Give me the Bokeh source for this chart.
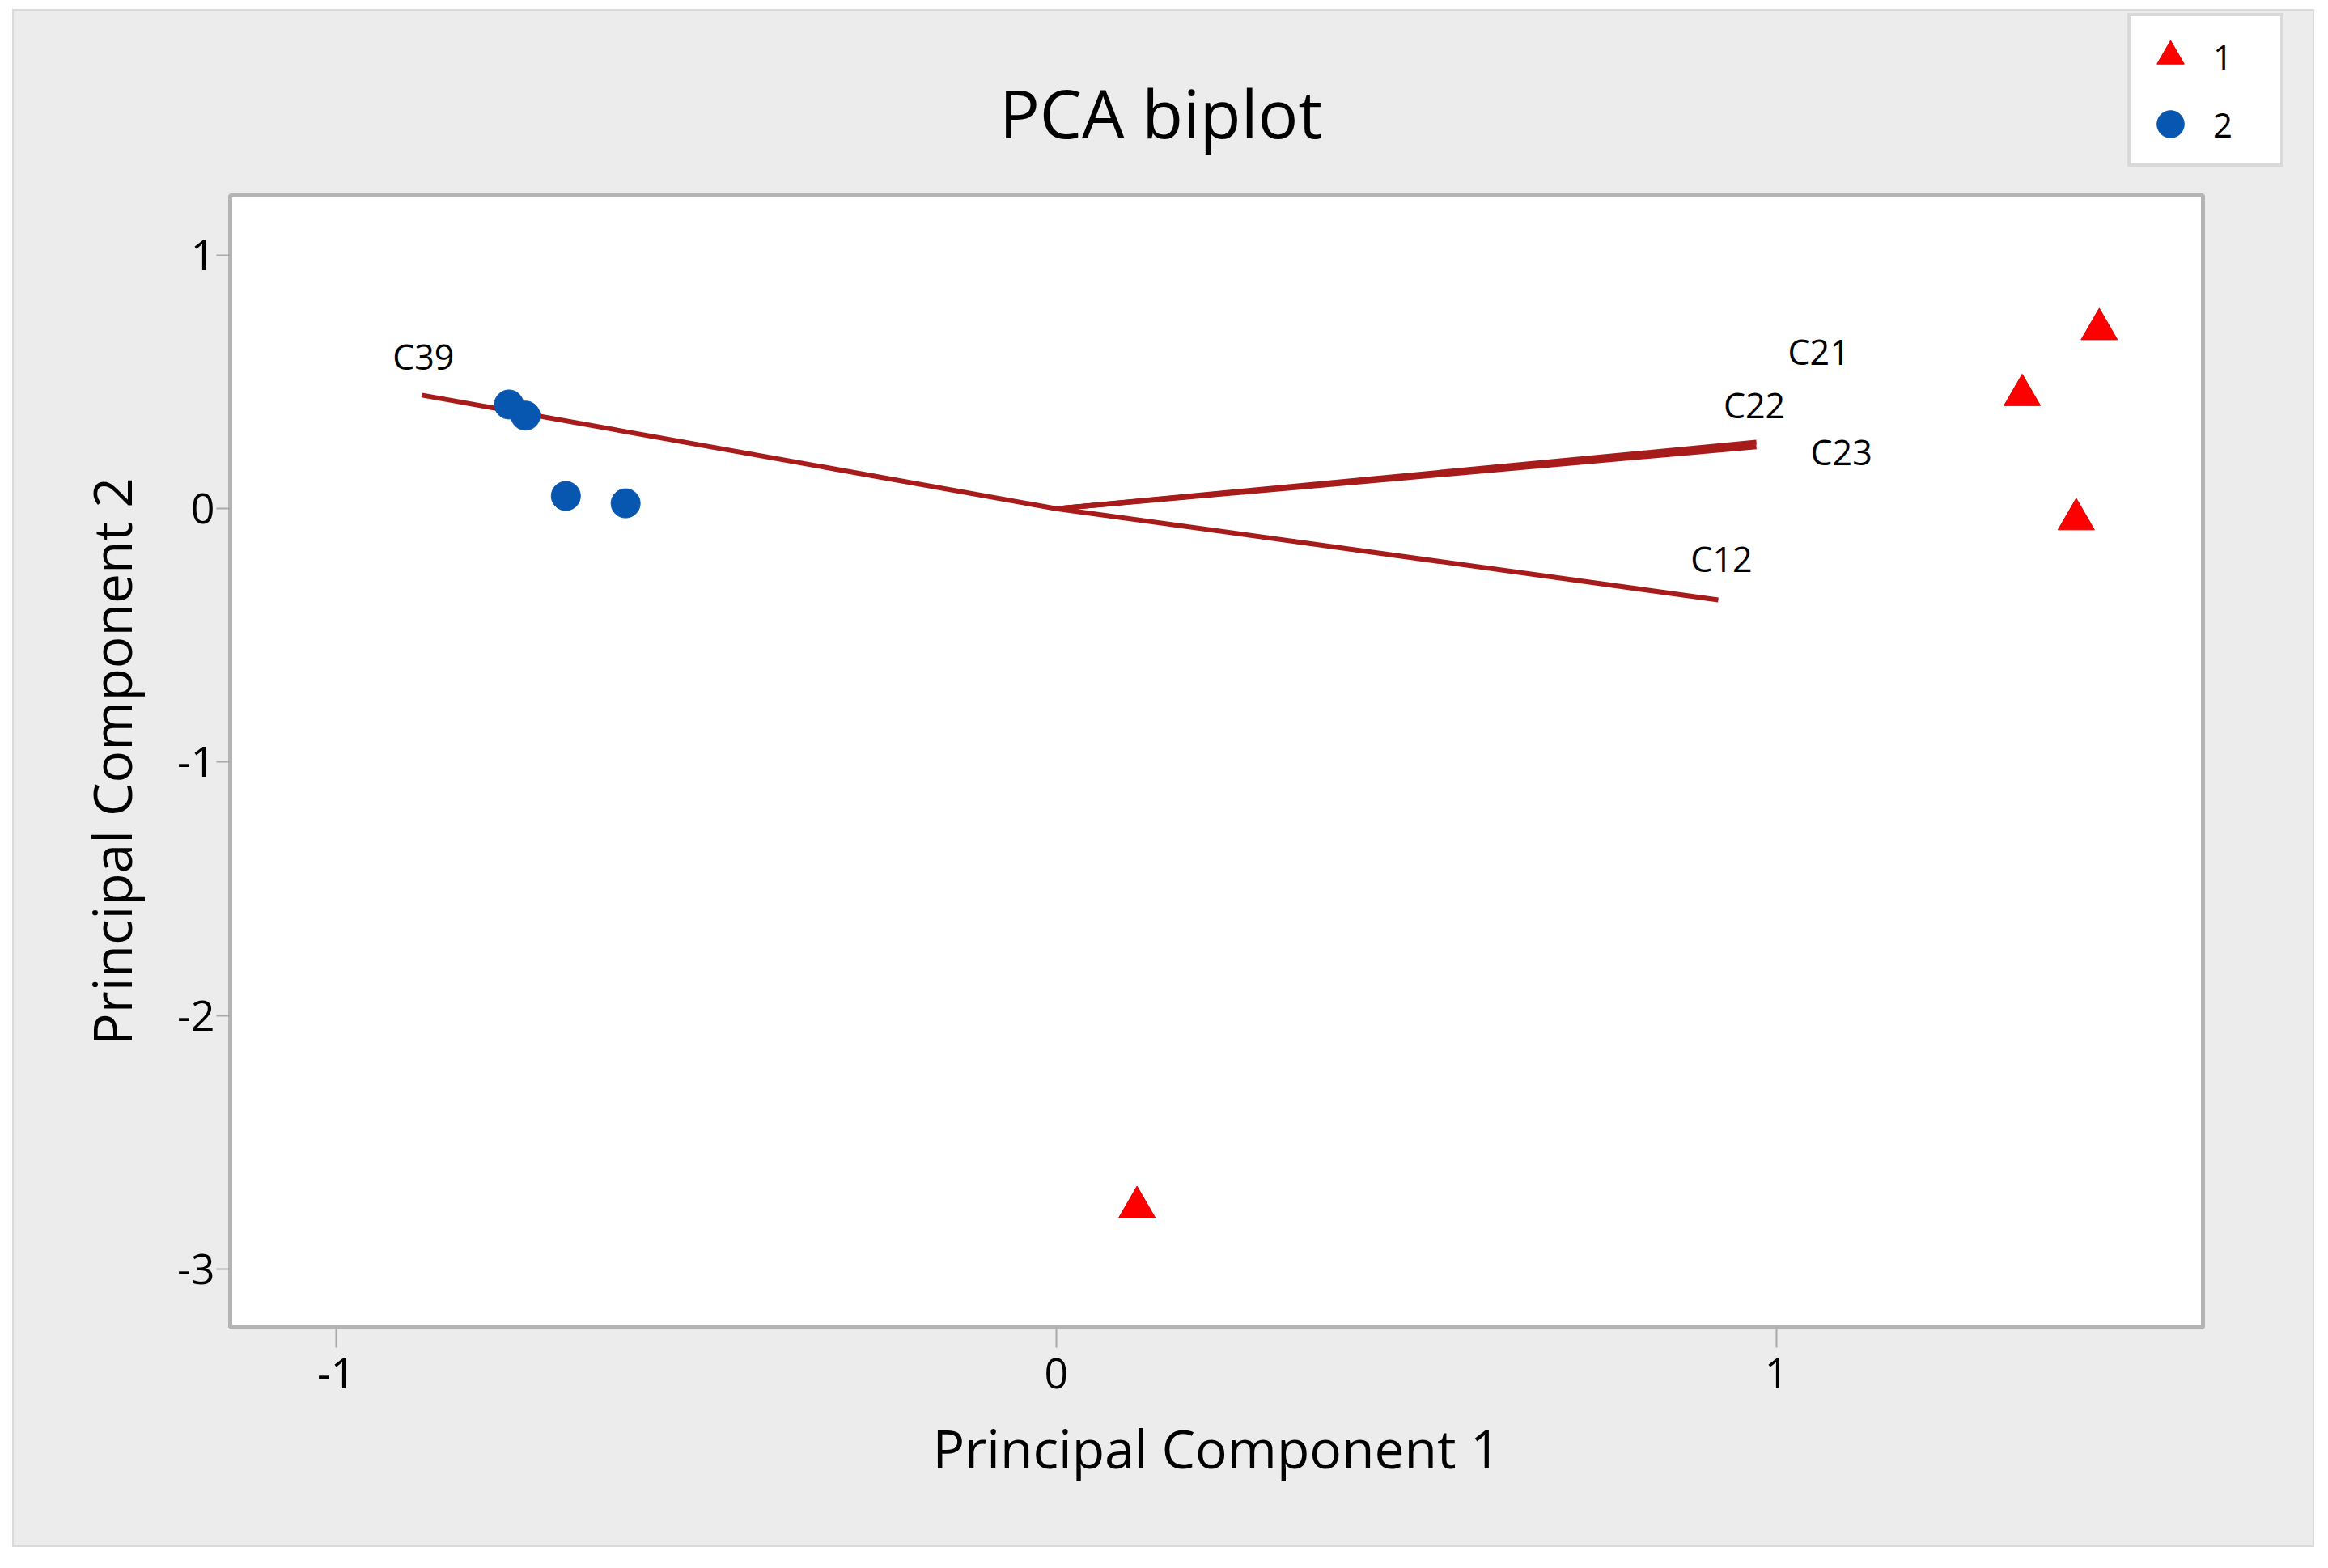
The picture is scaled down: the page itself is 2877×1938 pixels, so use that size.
from bokeh.plotting import figure
from bokeh.models import (ColumnDataSource, FixedTicker, Legend, LegendItem,
                          Range1d, Label, Spacer)
from bokeh.layouts import column, row
from bokeh.embed import file_html
from bokeh.resources import INLINE
from bokeh.core.properties import value

# ---------------- data ----------------
group_labels = ["1", "2"]
g1_pc1 = [1.448, 1.341, 1.416, 0.112]
g1_pc2 = [0.708, 0.448, -0.042, -2.756]
g2_pc1 = [-0.760, -0.737, -0.681, -0.598]
g2_pc2 = [0.411, 0.367, 0.050, 0.021]

loading_names = ["C21", "C22", "C23", "C12", "C39"]
loading_pc1 = [0.972, 0.968, 0.972, 0.919, -0.881]
loading_pc2 = [0.262, 0.252, 0.244, -0.360, 0.448]

x_ticks = [-1, 0, 1]
y_ticks = [-3, -2, -1, 0, 1]

title_text = "PCA biplot"
x_label = "Principal Component 1"
y_label = "Principal Component 2"

# label placement offsets (screen px, style only)
label_dx = [77, 1, 105, 4, 2]
label_dy = [-112, -49, 6, -51, -48]

FONT = "Open Sans"
GRAY = "#ececec"
RED, RED_EDGE = "#ff0000", "#e00000"
BLUE = "#0757b0"

# ---------------- layout geometry (px) ----------------
OFF_X, OFF_Y = 17, 13          # grey panel starts here on the page
W = 2841
TOP_H = 225                    # band holding title + legend
MAIN_H = 1672

# ---------------- top band: title + legend ----------------
# (its ranges exclude all score points, so only the legend shows the groups' markers)
top = figure(width=W, height=TOP_H, output_backend="svg", toolbar_location=None,
             x_range=Range1d(0, 1), y_range=Range1d(0, 1),
             min_border=0, title_location=None)
top.axis.visible = False
top.grid.visible = False
top.outline_line_color = None
top.background_fill_color = GRAY
top.border_fill_color = GRAY

top.add_layout(Label(x=1417, y=100, x_units="screen", y_units="screen",
                     text=title_text, text_align="center", text_baseline="alphabetic",
                     text_font=FONT, text_font_size="83px", text_color="black"))

lr1 = top.scatter(g1_pc1, g1_pc2, marker="triangle", size=45,
                  fill_color=RED, line_color=RED_EDGE)
lr2 = top.scatter(g2_pc1, g2_pc2, marker="circle", size=36,
                  fill_color=BLUE, line_color=BLUE)
legend = Legend(items=[LegendItem(label=group_labels[0], renderers=[lr1]),
                       LegendItem(label=group_labels[1], renderers=[lr2])],
                location=(2629 - OFF_X, (OFF_Y + TOP_H) - 206),
                glyph_width=84, glyph_height=84, label_height=84,
                label_width=76, label_standoff=11, spacing=0,
                padding=7, margin=0,
                label_text_font=FONT, label_text_font_size="42px",
                label_text_color="black",
                border_line_color="#b4b4b4", border_line_width=4,
                background_fill_color="white", background_fill_alpha=1.0)
top.add_layout(legend)

# ---------------- main plot ----------------
p = figure(width=W, height=MAIN_H, output_backend="svg", toolbar_location=None,
           x_range=Range1d(-1.147, 1.592), y_range=Range1d(-3.230, 1.236),
           min_border_left=267, min_border_right=136,
           min_border_top=3, min_border_bottom=270, title_location=None)

# keep the two stacked figures from aligning their frames
for fig in (top, p):
    if "frame_align" in fig.properties():
        fig.frame_align = False

p.border_fill_color = GRAY
p.background_fill_color = "white"
p.outline_line_color = "#b4b4b4"
p.outline_line_width = 5
p.grid.visible = False

for ax, ticks in ((p.xaxis, x_ticks), (p.yaxis, y_ticks)):
    ax.ticker = FixedTicker(ticks=ticks)
    ax.major_label_overrides = {t: str(t) for t in ticks}
    ax.axis_line_color = None
    ax.major_tick_in = 0
    ax.minor_tick_in = 0
    ax.minor_tick_out = 0
    ax.major_tick_line_color = "#a8a8a8"
    ax.major_tick_line_width = 2
    ax.major_label_text_font = FONT
    ax.major_label_text_font_size = "52px"
    ax.major_label_text_color = "black"
    ax.axis_label_text_font = FONT
    ax.axis_label_text_font_size = "66px"
    ax.axis_label_text_font_style = "normal"
    ax.axis_label_text_color = "black"

p.xaxis.major_tick_out = 25
p.xaxis.major_label_standoff = 13
p.xaxis.axis_label_standoff = 25
p.xaxis.axis_label = x_label

p.yaxis.major_tick_out = 17
p.yaxis.major_label_standoff = 2
p.yaxis.axis_label_standoff = 34
p.yaxis.axis_label = y_label

# loading vectors
lsrc = ColumnDataSource(dict(x0=[0] * len(loading_names), y0=[0] * len(loading_names),
                             x1=loading_pc1, y1=loading_pc2, name=loading_names,
                             dx=label_dx, dy=label_dy))
p.segment(x0="x0", y0="y0", x1="x1", y1="y1", source=lsrc,
          line_color="#a81b1b", line_width=6)
p.text(x="x1", y="y1", text="name", x_offset="dx", y_offset="dy", source=lsrc,
       text_font=value(FONT), text_font_size="43px", text_color="black",
       text_align="center", text_baseline="middle")

# scores
p.scatter(g1_pc1, g1_pc2, marker="triangle", size=45,
          fill_color=RED, line_color=RED_EDGE, line_width=1)
p.scatter(g2_pc1, g2_pc2, marker="circle", size=36,
          fill_color=BLUE, line_color=BLUE, line_width=1)

panel = column(top, p, styles={"background-color": GRAY,
                               "outline": "2px solid #dadada"})
page = column(Spacer(height=OFF_Y), row(Spacer(width=OFF_X), panel))
open("out.html", "w").write(file_html(page, INLINE))
